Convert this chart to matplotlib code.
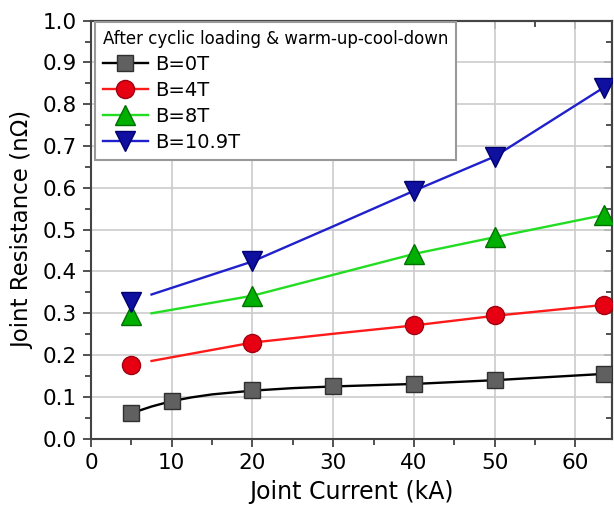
import matplotlib
matplotlib.use('Agg')
import matplotlib.pyplot as plt
from matplotlib.ticker import MultipleLocator, FormatStrFormatter, NullFormatter

plt.rcParams['font.family'] = ['DejaVu Sans']

# measured points
x0 = [5, 10, 20, 30, 40, 50, 63.5]
y0 = [0.061, 0.090, 0.116, 0.126, 0.131, 0.140, 0.155]
x4 = [5, 20, 40, 50, 63.5]
y4 = [0.176, 0.230, 0.271, 0.296, 0.320]
x8 = [5, 20, 40, 50, 63.5]
y8 = [0.295, 0.342, 0.442, 0.482, 0.535]
x11 = [5, 20, 40, 50, 63.5]
y11 = [0.327, 0.424, 0.593, 0.675, 0.840]

# fitted curves
fx0 = [5, 7.5, 10, 12.5, 15, 20, 25, 30, 40, 50, 63.5]
fy0 = [0.061, 0.077, 0.090, 0.099, 0.106, 0.115, 0.121, 0.125, 0.131, 0.140, 0.155]
fx = [7.5, 20, 30, 40, 50, 63.5]
fy4 = [0.186, 0.230, 0.251, 0.271, 0.294, 0.320]
fy8 = [0.300, 0.342, 0.392, 0.442, 0.482, 0.535]
fy11 = [0.345, 0.424, 0.508, 0.593, 0.675, 0.840]

fig = plt.figure(figsize=(6.14, 5.07), dpi=100)
ax = fig.add_axes([0.1482, 0.1347, 0.8481, 0.8245])

ax.plot(fx0, fy0, color='black', lw=1.7, zorder=2)
ax.plot(fx, fy4, color='#ff1a1a', lw=1.7, zorder=2)
ax.plot(fx, fy8, color='#22dd22', lw=1.7, zorder=2)
ax.plot(fx, fy11, color='#2020cc', lw=1.7, zorder=2)

ax.plot(x0, y0, ls='none', marker='s', ms=11, mfc='#606060', mec='#303030', mew=1, zorder=3)
ax.plot(x4, y4, ls='none', marker='o', ms=13, mfc='#e60012', mec='#a00010', mew=1, zorder=3)
ax.plot(x8, y8, ls='none', marker='^', ms=14, mfc='#00b000', mec='#007000', mew=1, zorder=3)
ax.plot(x11, y11, ls='none', marker='v', ms=14, mfc='#1010a0', mec='#000070', mew=1, zorder=3)

# legend handles (line + marker)
h0, = ax.plot([], [], color='black', lw=1.7, marker='s', ms=11, mfc='#606060', mec='#303030')
h4, = ax.plot([], [], color='#ff1a1a', lw=1.7, marker='o', ms=13, mfc='#e60012', mec='#a00010')
h8, = ax.plot([], [], color='#22dd22', lw=1.7, marker='^', ms=14, mfc='#00b000', mec='#007000')
h11, = ax.plot([], [], color='#2020cc', lw=1.7, marker='v', ms=14, mfc='#1010a0', mec='#000070')
leg = ax.legend([h0, h4, h8, h11], ['B=0T', 'B=4T', 'B=8T', 'B=10.9T'],
                title='After cyclic loading & warm-up-cool-down',
                loc='upper left', bbox_to_anchor=(0.008, 0.996),
                fontsize=14, title_fontsize=12, fancybox=False, framealpha=1,
                edgecolor='#999999', handlelength=2.3, handletextpad=0.4,
                labelspacing=0.36, borderpad=0.4, borderaxespad=0)
leg._legend_box.align = 'left'
leg.get_frame().set_linewidth(1.5)

ax.set_xlim(0, 64.5)
ax.set_ylim(0, 1.0)
ax.xaxis.set_major_locator(MultipleLocator(10))
ax.xaxis.set_minor_locator(MultipleLocator(5))
ax.yaxis.set_major_locator(MultipleLocator(0.1))
ax.yaxis.set_minor_locator(MultipleLocator(0.05))
ax.yaxis.set_major_formatter(FormatStrFormatter('%.1f'))
ax.grid(True, which='major', color='#cccccc', lw=1.2)
ax.set_axisbelow(True)

ax.tick_params(which='both', direction='out', labelsize=15.5, width=1.2, color='#333333', pad=4)
ax.tick_params(which='major', length=6)
ax.tick_params(which='minor', length=4)
for s in ax.spines.values():
    s.set_linewidth(1.5)
    s.set_color('#444444')

# inward ticks on top and right
top = ax.secondary_xaxis('top')
top.xaxis.set_major_locator(MultipleLocator(10))
top.xaxis.set_minor_locator(MultipleLocator(5))
top.xaxis.set_major_formatter(NullFormatter())
top.tick_params(which='both', direction='in', width=1.2, color='#333333')
top.tick_params(which='major', length=6)
top.tick_params(which='minor', length=4)
right = ax.secondary_yaxis('right')
right.yaxis.set_major_locator(MultipleLocator(0.1))
right.yaxis.set_minor_locator(MultipleLocator(0.05))
right.yaxis.set_major_formatter(NullFormatter())
right.tick_params(which='both', direction='in', width=1.2, color='#333333')
right.tick_params(which='major', length=6)
right.tick_params(which='minor', length=4)
for sec in (top, right):
    for s in sec.spines.values():
        s.set_linewidth(1.5)
        s.set_color('#444444')

ax.set_xlabel('Joint Current (kA)', fontsize=17, labelpad=5)
ax.set_ylabel('Joint Resistance (n\u03a9)', fontsize=16.5, labelpad=6)

fig.savefig('out.png', dpi=100)
